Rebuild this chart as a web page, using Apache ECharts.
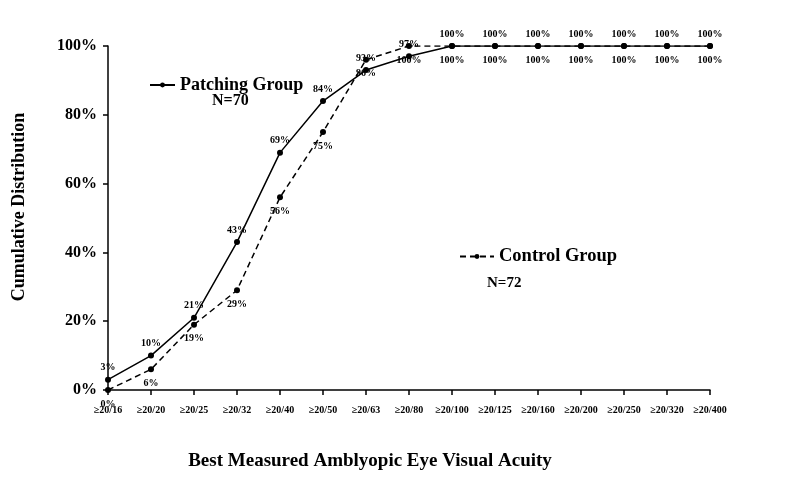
<!DOCTYPE html>
<html><head><meta charset="utf-8">
<script src="https://cdn.jsdelivr.net/npm/echarts@6/dist/echarts.min.js"></script>
<style>html,body{margin:0;padding:0;background:#fff}#c{width:788px;height:482px}</style>
</head><body><div id="c"></div>
<script>
const categories = ['≥20/16','≥20/20','≥20/25','≥20/32','≥20/40','≥20/50','≥20/63','≥20/80','≥20/100','≥20/125','≥20/160','≥20/200','≥20/250','≥20/320','≥20/400'];
const patching = [3,10,21,43,69,84,93,97,100,100,100,100,100,100,100];
const control  = [0,6,19,29,56,75,96,100,100,100,100,100,100,100,100];
const yTicks = [0,20,40,60,80,100];

const F = '"Liberation Serif","Times New Roman",serif';
const chart = echarts.init(document.getElementById('c'));
chart.setOption({
  animation:false,
  backgroundColor:'#fff',
  grid:{left:108,right:78,top:46,bottom:92},
  legend:[
    {data:['Patching Group'],left:144,top:71,itemWidth:25,itemHeight:6,itemGap:5,
     textStyle:{fontFamily:F,fontWeight:'bold',fontSize:18,color:'#000'}},
    {data:['Control Group'],left:454,top:242,itemWidth:34,itemHeight:6,itemGap:5,
     textStyle:{fontFamily:F,fontWeight:'bold',fontSize:18.5,color:'#000'}}
  ],
  xAxis:{type:'category',data:categories,boundaryGap:false,
    axisLine:{lineStyle:{color:'#000',width:1.5}},
    axisTick:{show:true,alignWithLabel:true,length:5,lineStyle:{color:'#000',width:1.5}},
    axisLabel:{interval:0,margin:15,color:'#000',fontFamily:F,fontWeight:'bold',fontSize:10}},
  yAxis:{type:'value',min:0,max:100,interval:20,
    splitLine:{show:false},
    axisLine:{show:true,lineStyle:{color:'#000',width:1.5}},
    axisTick:{show:true,length:5,lineStyle:{color:'#000',width:1.5}},
    axisLabel:{margin:11,color:'#000',fontFamily:F,fontWeight:'bold',fontSize:16,
      formatter:v=>yTicks.includes(v)?v+'%':''}},
  series:[
    {name:'Patching Group',type:'line',data:patching,symbol:'circle',symbolSize:6,
     itemStyle:{color:'#000'},lineStyle:{color:'#000',width:1.5},
     label:{show:true,position:'top',distance:4,formatter:'{c}%',color:'#000',
       fontFamily:F,fontWeight:'bold',fontSize:10}},
    {name:'Control Group',type:'line',data:control,symbol:'circle',symbolSize:6,
     itemStyle:{color:'#000'},lineStyle:{color:'#000',width:1.5,type:[6,4]},
     label:{show:true,position:'bottom',distance:6,formatter:'{c}%',color:'#000',
       fontFamily:F,fontWeight:'bold',fontSize:10}}
  ],
  graphic:[
    {type:'text',left:212,top:93,style:{text:'N=70',fontFamily:F,fontWeight:'bold',fontSize:16,fill:'#000'}},
    {type:'text',left:487,top:276,style:{text:'N=72',fontFamily:F,fontWeight:'bold',fontSize:15,fill:'#000'}},
    {type:'text',x:370,y:461,style:{text:'Best Measured Amblyopic Eye Visual Acuity',align:'center',verticalAlign:'middle',fontFamily:F,fontWeight:'bold',fontSize:19,fill:'#000'}},
    {type:'text',x:19,y:207,rotation:Math.PI/2,style:{text:'Cumulative Distribution',align:'center',verticalAlign:'middle',fontFamily:F,fontWeight:'bold',fontSize:18,fill:'#000'}}
  ]
});
</script></body></html>
